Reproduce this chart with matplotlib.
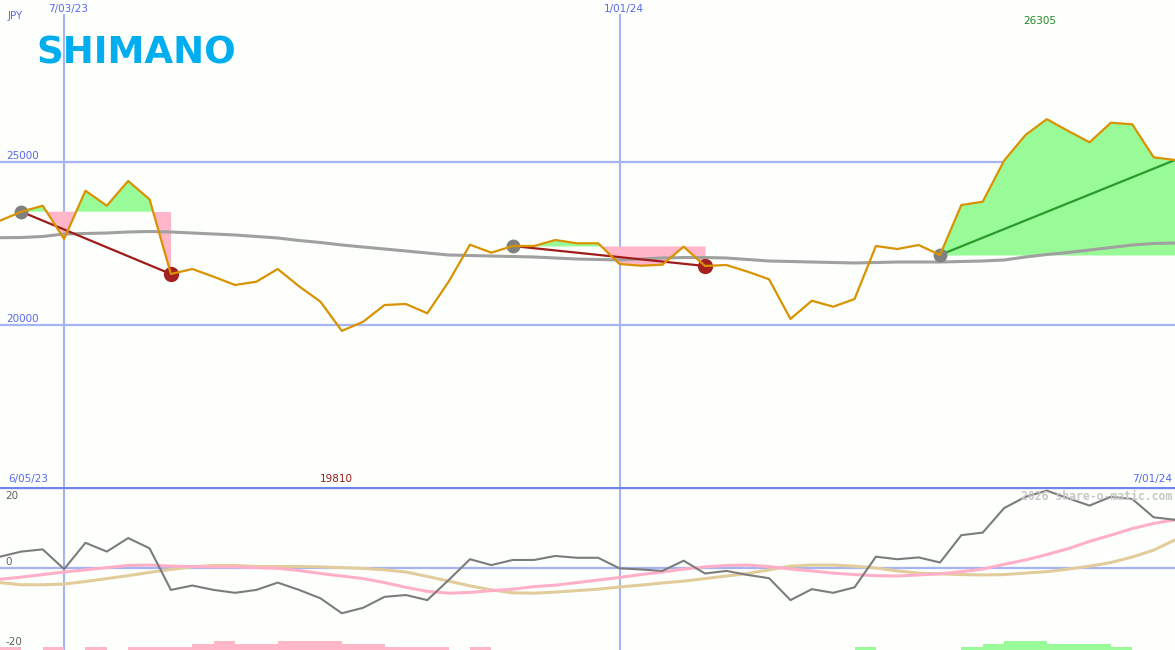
import matplotlib
matplotlib.use("Agg")
import matplotlib.pyplot as plt
import numpy as np

# ---------------- data ----------------
weeks = list(range(56))  # weekly points

price = [23190, 23466, 23650, 22629, 24110, 23650, 24408, 23847, 21555, 21709,
         21472, 21218, 21319, 21709, 21178, 20705, 19810, 20092, 20604, 20635,
         20350, 21319, 22454, 22209, 22414, 22414, 22598, 22497, 22497, 21862,
         21810, 21840, 22393, 21801, 21831, 21626, 21393, 20175, 20736, 20552,
         20788, 22414, 22322, 22445, 22138, 23672, 23773, 25031, 25819, 26305,
         25942, 25595, 26196, 26147, 25135, 25052]

ma_long = [22669, 22675, 22706, 22782, 22798, 22813, 22844, 22859, 22844, 22813,
           22782, 22752, 22706, 22660, 22583, 22521, 22445, 22383, 22322, 22261,
           22199, 22138, 22123, 22107, 22092, 22077, 22046, 22015, 22000, 21985,
           22015, 22046, 22061, 22061, 22046, 22000, 21954, 21939, 21923, 21908,
           21893, 21908, 21923, 21923, 21923, 21939, 21954, 21985, 22077, 22153,
           22215, 22291, 22368, 22445, 22491, 22506]

oscillator = [3.1, 4.5, 5.1, -0.3, 6.9, 4.5, 8.2, 5.4, -6.0, -4.8,
              -6.0, -6.8, -6.0, -4.0, -6.0, -8.3, -12.4, -10.9, -7.9, -7.4,
              -8.8, -3.3, 2.4, 0.8, 2.2, 2.2, 3.3, 2.8, 2.8, -0.1,
              -0.4, -0.8, 2.0, -1.5, -0.8, -1.9, -2.8, -8.8, -5.8, -6.8,
              -5.3, 3.1, 2.4, 2.9, 1.5, 9.0, 9.7, 16.4, 19.5, 21.2,
              19.1, 17.1, 19.5, 18.9, 13.9, 13.2]

osc_pink = [-3.1, -2.5, -1.8, -1.1, -0.5, 0.1, 0.7, 0.8, 0.5, 0.4,
            0.3, 0.3, 0.1, -0.1, -0.7, -1.5, -2.2, -2.9, -4.0, -5.3,
            -6.4, -6.9, -6.7, -6.2, -5.8, -5.1, -4.7, -4.0, -3.3, -2.6,
            -1.8, -1.1, -0.3, 0.3, 0.7, 0.8, 0.4, -0.3, -0.8, -1.4,
            -1.8, -2.1, -2.2, -1.9, -1.6, -1.0, -0.3, 1.0, 2.2, 3.7,
            5.3, 7.3, 9.0, 10.8, 12.2, 13.2]

osc_tan = [-4.0, -4.6, -4.6, -4.4, -3.7, -2.9, -2.1, -1.2, -0.4, 0.3,
           0.7, 0.7, 0.4, 0.4, 0.4, 0.3, 0.1, -0.1, -0.5, -1.1,
           -2.3, -3.6, -4.9, -6.0, -6.8, -6.9, -6.6, -6.2, -5.8, -5.2,
           -4.7, -4.1, -3.6, -2.9, -2.2, -1.5, -0.5, 0.5, 0.8, 0.8,
           0.5, 0.0, -0.8, -1.4, -1.6, -1.8, -1.9, -1.8, -1.4, -1.0,
           -0.3, 0.5, 1.5, 3.0, 4.9, 7.7]

# histogram levels per week interval (negative = pink, positive = green)
hist = [-1, 0, -1, 0, -1, 0, -1, -1, -1, -2,
        -3, -2, -2, -3, -3, -3, -2, -2, -1, -1,
        -1, 0, -1, 0, 0, 0, 0, 0, 0, 0,
        0, 0, 0, 0, 0, 0, 0, 0, 0, 0,
        1, 0, 0, 0, 0, 1, 2, 3, 3, 2,
        2, 2, 1, 0, 0]

# signal segments: (start week, end week)
signals = [(1, 8), (24, 33), (44, 55)]

date_marks = [(3, "7/03/23"), (29, "1/01/24")]
price_ticks = [25000, 20000]
osc_ticks = ["20", "0", "-20"]
range_start, range_end = "6/05/23", "7/01/24"
max_label, min_label = "26305", "19810"
currency = "JPY"
logo = "SHIMANO"
watermark = "2026 share-o-matic.com"

# ---------------- style ----------------
W, H = 1175, 650
BG = "#fcfffc"
GRID = "#a6b4f4"
SEP = "#7084f0"
LBL = "#5a68ee"
ORANGE = "#d99200"

fig = plt.figure(figsize=(W / 100, H / 100), dpi=100, facecolor=BG)

top_h = 487
ax = fig.add_axes([0, (H - top_h) / H, 1, top_h / H])
axb = fig.add_axes([0, 0, 1, (H - top_h) / H])
for a in (ax, axb):
    a.set_facecolor("none")
    a.set_axis_off()

x = np.array(weeks, dtype=float)
p = np.array(price, dtype=float)

# price scale: 25000 at y=161.7px, 32.6 px per 1000
ppx = 1000 / 32.6
ax.set_xlim(0, 55)
ax.set_ylim(25000 - (top_h - 161.7) * ppx, 25000 + 161.7 * ppx)

for v in price_ticks:
    ax.axhline(v, color=GRID, lw=1.6, zorder=1)
for wk, _ in date_marks:
    ax.axvline(wk, ymax=1 - 15 / top_h, color=GRID, lw=1.5, zorder=1)
    axb.axvline(wk, color=GRID, lw=1.5, zorder=1)

# signal fills
for s, e in signals:
    xs = x[s:e + 1]
    ys = p[s:e + 1]
    base = p[s]
    ax.fill_between(xs, base, ys, where=ys >= base, interpolate=True,
                    color="#98fb98", lw=0, zorder=2)
    ax.fill_between(xs, base, ys, where=ys < base, interpolate=True,
                    color="#ffb6c8", lw=0, zorder=2)

ax.plot(x, ma_long, color="#a0a0a0", lw=2.2, zorder=3)

for s, e in signals:
    col = "#2a9a2a" if p[e] > p[s] else "#a01c1c"
    ax.plot([x[s], x[e]], [p[s], p[e]], color=col, lw=1.6, zorder=4)
    ax.plot(x[s], p[s], "o", color="#808080", ms=10, mec="none", zorder=5)
    if p[e] < p[s]:
        ax.plot(x[e], p[e], "o", color="#a52020", ms=11, mec="none", zorder=5)

ax.plot(x, p, color=ORANGE, lw=1.6, zorder=6)

# ---------------- bottom panel ----------------
opx = 3.65
axb.set_xlim(0, 55)
axb.set_ylim(-(H - 568) / opx, (568 - top_h) / opx)
axb.axhline(0, color=GRID, lw=1.6, zorder=1)
axb.axhline((568 - top_h) / opx, color=SEP, lw=2.4, zorder=6)

axb.plot(x, osc_tan, color="#e2cc9c", lw=2.2, zorder=2)
axb.plot(x, osc_pink, color="#ffb0c8", lw=2.2, zorder=3)
axb.plot(x, oscillator, color="#7c7c7c", lw=1.5, zorder=4)

axh = fig.add_axes([0, 0, 1, (H - top_h) / H])
axh.set_axis_off()
axh.set_facecolor("none")
axh.set_xlim(0, 55)
axh.set_ylim(0, (H - top_h) / 3.0)
hv = np.array(hist, dtype=float)
axh.bar(np.arange(len(hist)), np.abs(hv), width=1.0, align="edge",
        color=["#ffb6c8" if v < 0 else "#98fb98" for v in hv], lw=0)

# ---------------- texts ----------------
def px(xp, yp):
    return xp / W, 1 - yp / H

f = dict(family="DejaVu Sans", fontsize=7.5)
fig.text(*px(8, 16), currency, color=LBL, va="center", ha="left", **f)
for wk, lab in date_marks:
    fig.text(*px(wk * W / 55 + 4, 9), lab, color=LBL, va="center", ha="center", **f)
fig.text(*px(6, 156), f"{price_ticks[0]}", color=LBL, va="center", ha="left", **f)
fig.text(*px(6, 319), f"{price_ticks[1]}", color=LBL, va="center", ha="left", **f)
fig.text(*px(1040, 21), max_label, color="#228822", va="center", ha="center", **f)
fig.text(*px(8, 479), range_start, color=LBL, va="center", ha="left", **f)
fig.text(*px(336, 479), min_label, color="#a01818", va="center", ha="center", **f)
fig.text(*px(1172, 479), range_end, color=LBL, va="center", ha="right", **f)
fig.text(*px(5, 496), osc_ticks[0], color="#606060", va="center", ha="left", **f)
fig.text(*px(5, 562), osc_ticks[1], color="#606060", va="center", ha="left", **f)
fig.text(*px(5, 642), osc_ticks[2], color="#606060", va="center", ha="left", **f)
fig.text(*px(1172, 496), watermark, color="#c8c8c8", va="center", ha="right",
         family="DejaVu Sans Mono", fontsize=8.3, fontweight="bold")

fig.text(*px(36, 63), logo, color="#00aeef", va="baseline", ha="left",
         family="DejaVu Sans", fontsize=26.7, fontweight="bold")

fig.savefig("out.png", dpi=100, facecolor=BG)
